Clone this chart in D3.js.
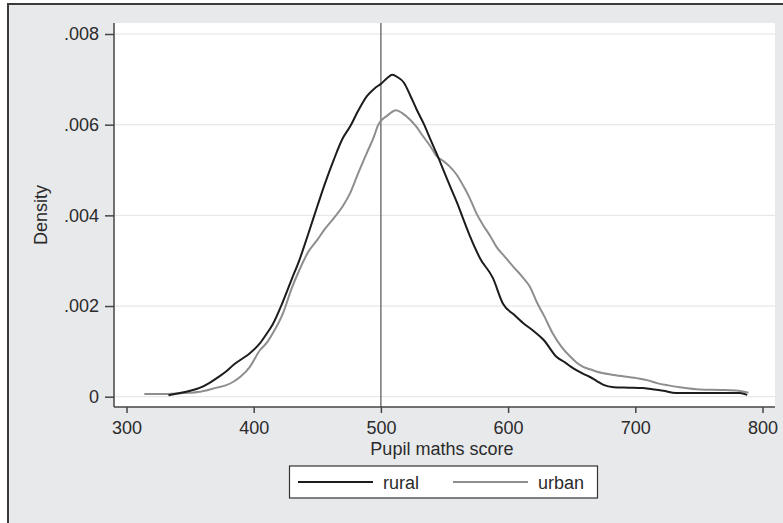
<!DOCTYPE html>
<html>
<head>
<meta charset="utf-8">
<script src="https://cdn.jsdelivr.net/npm/d3@7/dist/d3.min.js"></script>
<style>
  html, body { margin: 0; padding: 0; background: #ffffff; }
  svg { display: block; }
  text { font-family: "Liberation Sans", Arial, sans-serif; fill: #2b2b2b; }
</style>
</head>
<body>
<svg id="chart" width="783" height="523"></svg>
<script>
// ---- data ----
const xTicks = [300, 400, 500, 600, 700, 800];
const yTicks = [0, 0.002, 0.004, 0.006, 0.008];
const yTickLabels = ["0", ".002", ".004", ".006", ".008"];
const referenceScore = 500;
const seriesNames = ["rural", "urban"];

const ruralScore = [333,340,350,358,365,371,378,384,390,397,405,410,415,423,430,436,443,450,456,463,470,476,482,489,495,500,505,509,513,518,523,528,534,539,544,549,555,560,565,570,578,588,596,605,612,620,628,638,645,651,658,664,670,675,683,695,706,715,722,732,750,770,782,788];
const ruralDensity = [0.00003,0.00007,0.00013,0.0002,0.0003,0.00041,0.00055,0.0007,0.00082,0.00096,0.00118,0.00138,0.0016,0.0021,0.0026,0.00302,0.0036,0.0042,0.0047,0.00523,0.0057,0.00597,0.0063,0.00663,0.0068,0.0069,0.00703,0.0071,0.00705,0.00693,0.00665,0.00634,0.006,0.00567,0.00535,0.00501,0.0046,0.00427,0.0039,0.00354,0.00305,0.00262,0.00205,0.0018,0.00162,0.00145,0.00125,0.00088,0.00075,0.00063,0.00052,0.00044,0.00034,0.00026,0.00021,0.0002,0.00019,0.00016,0.00013,0.00008,0.00008,0.00008,0.00008,0.00004];

const urbanScore = [314,330,345,358,371,378,384,390,397,405,410,415,423,430,436,443,450,456,463,470,476,482,489,494,498,505,512,517,523,528,533,539,544,549,554,560,565,570,575,580,586,591,597,604,611,617,623,628,635,642,649,654,659,665,670,683,701,710,717,726,735,751,769,781,789];
const urbanDensity = [0.00006,0.00006,0.00008,0.00011,0.0002,0.00025,0.00033,0.00045,0.00066,0.00103,0.00118,0.0014,0.00184,0.0024,0.0028,0.0032,0.00346,0.0037,0.00394,0.0042,0.0045,0.00492,0.00538,0.0057,0.006,0.0062,0.00632,0.00625,0.00611,0.00595,0.00575,0.00552,0.0053,0.0052,0.00508,0.00488,0.00464,0.00437,0.00405,0.0038,0.00354,0.0033,0.0031,0.00287,0.00265,0.00243,0.00206,0.0018,0.0014,0.0011,0.00088,0.00075,0.00066,0.0006,0.00055,0.00048,0.00041,0.00036,0.0003,0.00025,0.00021,0.00016,0.00015,0.00013,0.00009];

// ---- layout ----
const svg = d3.select("#chart");
const W = 783, H = 523;
const plot = { left: 114, right: 775, top: 23, bottom: 407 };

const x = d3.scaleLinear().domain([300, 800]).range([126.5, 762.5]);
const y = d3.scaleLinear().domain([0, 0.008]).range([396.7, 34]);

// outer frame (graph region)
svg.append("rect").attr("x", 8).attr("y", 4).attr("width", W).attr("height", H)
  .attr("fill", "#e8e9eb").attr("stroke", "#3a3a3a").attr("stroke-width", 2);

// plot region
svg.append("rect").attr("x", plot.left).attr("y", plot.top)
  .attr("width", plot.right - plot.left).attr("height", plot.bottom - plot.top)
  .attr("fill", "#ffffff");

// gridlines
svg.append("g").selectAll("line").data(yTicks).join("line")
  .attr("x1", plot.left).attr("x2", plot.right)
  .attr("y1", d => y(d)).attr("y2", d => y(d))
  .attr("stroke", "#e3e3e3").attr("stroke-width", 1);

// reference line at 500
svg.append("line")
  .attr("x1", x(referenceScore)).attr("x2", x(referenceScore))
  .attr("y1", plot.top).attr("y2", plot.bottom)
  .attr("stroke", "#555").attr("stroke-width", 1.2);

// curves
const line = d3.line().x(d => x(d[0])).y(d => y(d[1])).curve(d3.curveMonotoneX);
const ruralPts = ruralScore.map((s, i) => [s, ruralDensity[i]]);
const urbanPts = urbanScore.map((s, i) => [s, urbanDensity[i]]);
const colors = { rural: "#1c1c1c", urban: "#8e8e8e" };

svg.append("path").datum(urbanPts).attr("d", line)
  .attr("fill", "none").attr("stroke", colors.urban).attr("stroke-width", 2);
svg.append("path").datum(ruralPts).attr("d", line)
  .attr("fill", "none").attr("stroke", colors.rural).attr("stroke-width", 2);

// y axis
const yAxis = d3.axisLeft(y).tickValues(yTicks)
  .tickFormat((d, i) => yTickLabels[i]).tickSize(9).tickPadding(6);
const gy = svg.append("g").attr("transform", `translate(${plot.left},0)`).call(yAxis);
gy.select(".domain").attr("d", `M0,${plot.top}V${plot.bottom}`);
gy.selectAll("path, line").attr("stroke", "#444").attr("stroke-width", 1.5);
gy.selectAll("text").attr("font-size", 18).attr("fill", "#2b2b2b")
  .attr("font-family", "Liberation Sans, Arial, sans-serif");

// x axis
const xAxis = d3.axisBottom(x).tickValues(xTicks).tickFormat(d3.format("d"))
  .tickSize(6).tickPadding(8);
const gx = svg.append("g").attr("transform", `translate(0,${plot.bottom})`).call(xAxis);
gx.select(".domain").attr("d", `M${plot.left},0H${plot.right}`);
gx.selectAll("path, line").attr("stroke", "#444").attr("stroke-width", 1.5);
gx.selectAll("text").attr("font-size", 18).attr("fill", "#2b2b2b")
  .attr("font-family", "Liberation Sans, Arial, sans-serif");

// axis titles
svg.append("text").attr("x", x(500) + 61).attr("y", 455)
  .attr("text-anchor", "middle").attr("font-size", 18).text("Pupil maths score");
svg.append("text").attr("transform", "translate(47,215) rotate(-90)")
  .attr("text-anchor", "middle").attr("font-size", 18).text("Density");

// legend
const lg = svg.append("g");
lg.append("rect").attr("x", 289.5).attr("y", 466).attr("width", 308).attr("height", 32)
  .attr("fill", "#ffffff").attr("stroke", "#333").attr("stroke-width", 1.2);
const legendItems = [
  { name: seriesNames[0], x0: 298, x1: 373, tx: 383 },
  { name: seriesNames[1], x0: 453, x1: 528, tx: 538 }
];
legendItems.forEach(it => {
  lg.append("line").attr("x1", it.x0).attr("x2", it.x1).attr("y1", 482).attr("y2", 482)
    .attr("stroke", colors[it.name]).attr("stroke-width", 2);
  lg.append("text").attr("x", it.tx).attr("y", 489).attr("font-size", 18).text(it.name);
});
</script>
</body>
</html>
